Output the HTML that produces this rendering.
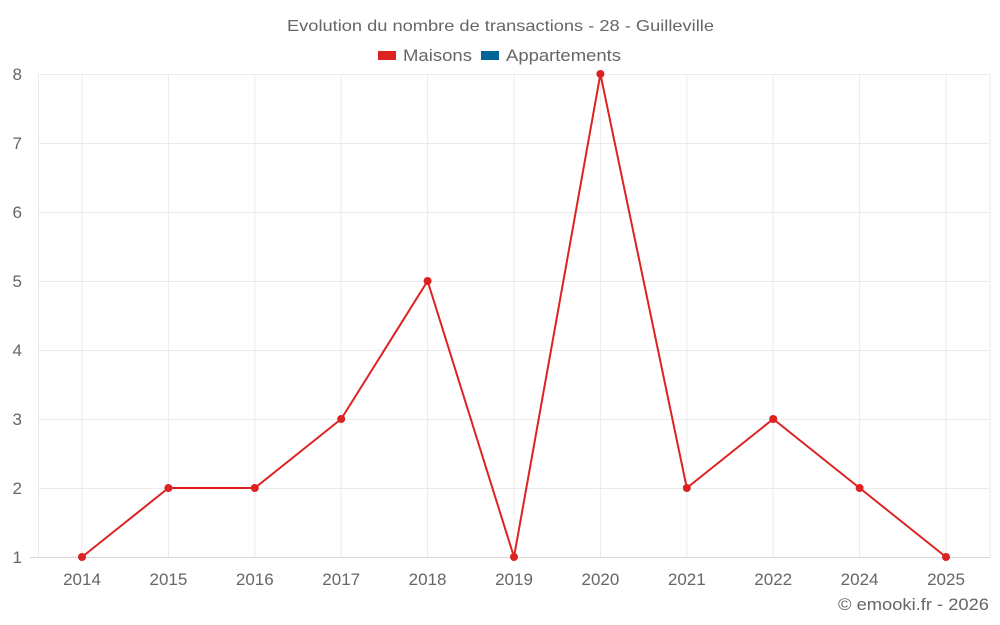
<!DOCTYPE html><html><head><style>body{margin:0;background:#fff}svg{display:block;font-family:"Liberation Sans",sans-serif}</style></head><body>
<svg width="1000" height="625" xmlns="http://www.w3.org/2000/svg">
<text x="287" y="31" font-size="16" fill="#666" textLength="427" lengthAdjust="spacingAndGlyphs">Evolution du nombre de transactions - 28 - Guilleville</text>
<rect x="378" y="51" width="18" height="9" fill="#dd2222"/><text x="403" y="61" font-size="17" fill="#666" textLength="69" lengthAdjust="spacingAndGlyphs">Maisons</text>
<rect x="481" y="51" width="18" height="9" fill="#006699"/><text x="506" y="61" font-size="17" fill="#666" textLength="115" lengthAdjust="spacingAndGlyphs">Appartements</text>
<g stroke="#ebebeb" stroke-width="1">
<line x1="38" y1="74.5" x2="990" y2="74.5"/><line x1="38" y1="143.5" x2="990" y2="143.5"/><line x1="38" y1="212.5" x2="990" y2="212.5"/><line x1="38" y1="281.5" x2="990" y2="281.5"/><line x1="38" y1="350.5" x2="990" y2="350.5"/><line x1="38" y1="419.5" x2="990" y2="419.5"/><line x1="38" y1="488.5" x2="990" y2="488.5"/>
<line x1="38.5" y1="74" x2="38.5" y2="557"/>
<line x1="82" y1="74" x2="82" y2="557"/><line x1="168.4" y1="74" x2="168.4" y2="557"/><line x1="254.8" y1="74" x2="254.8" y2="557"/><line x1="341.2" y1="74" x2="341.2" y2="557"/><line x1="427.6" y1="74" x2="427.6" y2="557"/><line x1="514" y1="74" x2="514" y2="557"/><line x1="600.4" y1="74" x2="600.4" y2="557"/><line x1="686.8" y1="74" x2="686.8" y2="557"/><line x1="773.2" y1="74" x2="773.2" y2="557"/><line x1="859.6" y1="74" x2="859.6" y2="557"/><line x1="946" y1="74" x2="946" y2="557"/><line x1="990" y1="74" x2="990" y2="557"/>
</g>
<line x1="30" y1="557.5" x2="990" y2="557.5" stroke="#d6d6d6"/>
<g font-size="17" fill="#666" text-anchor="end">
<text x="22" y="80">8</text><text x="22" y="149">7</text><text x="22" y="218">6</text><text x="22" y="287">5</text><text x="22" y="356">4</text><text x="22" y="425">3</text><text x="22" y="494">2</text><text x="22" y="563">1</text></g>
<g font-size="17" fill="#666" text-anchor="middle">
<text x="82" y="585">2014</text><text x="168.4" y="585">2015</text><text x="254.8" y="585">2016</text><text x="341.2" y="585">2017</text><text x="427.6" y="585">2018</text><text x="514" y="585">2019</text><text x="600.4" y="585">2020</text><text x="686.8" y="585">2021</text><text x="773.2" y="585">2022</text><text x="859.6" y="585">2024</text><text x="946" y="585">2025</text></g>
<polyline fill="none" stroke="#dd2222" stroke-width="2" points="82,557 168.4,488 254.8,488 341.2,419 427.6,281 514,557 600.4,74 686.8,488 773.2,419 859.6,488 946,557"/>
<g fill="#dd2222"><circle cx="82" cy="557" r="4"/><circle cx="168.4" cy="488" r="4"/><circle cx="254.8" cy="488" r="4"/><circle cx="341.2" cy="419" r="4"/><circle cx="427.6" cy="281" r="4"/><circle cx="514" cy="557" r="4"/><circle cx="600.4" cy="74" r="4"/><circle cx="686.8" cy="488" r="4"/><circle cx="773.2" cy="419" r="4"/><circle cx="859.6" cy="488" r="4"/><circle cx="946" cy="557" r="4"/></g>
<text x="838" y="610" font-size="17" fill="#666" textLength="151" lengthAdjust="spacingAndGlyphs">© emooki.fr - 2026</text>
</svg></body></html>
